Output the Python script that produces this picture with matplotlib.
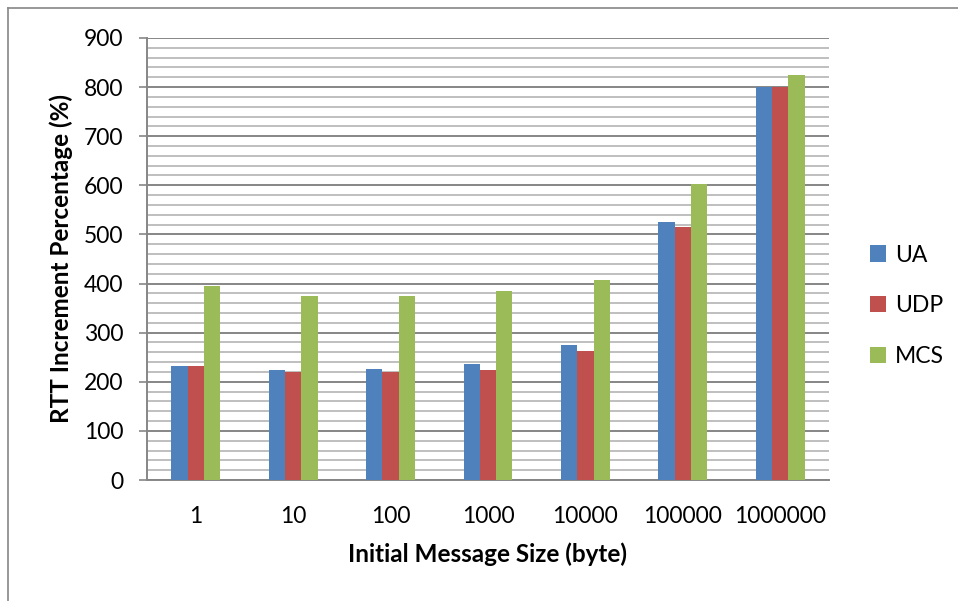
import numpy as np
import matplotlib
matplotlib.use("Agg")
import matplotlib.pyplot as plt
from matplotlib.lines import Line2D
from matplotlib.ticker import MultipleLocator

# ---------------------------------------------------
# Data
# ---------------------------------------------------

message_sizes = ["1", "10", "100", "1000", "10000", "100000", "1000000"]

ua_values = [233, 223, 227, 236, 274, 526, 801]
udp_values = [233, 220, 220, 224, 263, 516, 800]
mcs_values = [395, 375, 375, 385, 407, 603, 824]

series_names = ["UA", "UDP", "MCS"]
series_colors = ["#4F81BD", "#C0504D", "#9BBB59"]

plt.rcParams["font.family"] = ["Lato", "DejaVu Sans"]

# ---------------------------------------------------
# Figure
# ---------------------------------------------------

fig = plt.figure(figsize=(9.58, 6.01), dpi=100)
ax = fig.add_axes([0.1534, 0.2013, 0.7119, 0.7356])

x = np.arange(len(message_sizes))
width = 0.167

all_series = [ua_values, udp_values, mcs_values]

for i, (values, name, color) in enumerate(zip(all_series, series_names, series_colors)):
    ax.bar(
        x + (i - 1) * width,
        values,
        width=width,
        color=color,
        label=name,
        zorder=3,
    )

ax.set_xlim(-0.5, len(message_sizes) - 0.5)
ax.set_ylim(0, 900)

ax.yaxis.set_major_locator(MultipleLocator(100))
ax.yaxis.set_minor_locator(MultipleLocator(20))

ax.grid(axis="y", which="minor", color="#BFBFBF", linewidth=1.4, zorder=0)
ax.grid(axis="y", which="major", color="#868686", linewidth=1.4, zorder=1)
ax.set_axisbelow(True)

ax.set_xticks(x)
ax.set_xticklabels(message_sizes)

ax.tick_params(axis="x", length=0, pad=19, labelsize=16.5)
ax.tick_params(axis="y", which="major", length=6, width=1.2,
               color="#868686", pad=11, labelsize=16.5)
ax.tick_params(axis="y", which="minor", length=0)

for side in ["top", "right"]:
    ax.spines[side].set_visible(False)
for side in ["left", "bottom"]:
    ax.spines[side].set_color("#868686")
    ax.spines[side].set_linewidth(1.4)

ax.set_xlabel("Initial Message Size (byte)", fontsize=17.5, fontweight="bold",
              labelpad=11)
ax.set_ylabel("RTT Increment Percentage (%)", fontsize=17.5, fontweight="bold",
              labelpad=8)

ax.legend(
    loc="center left",
    bbox_to_anchor=(1.03, 0.394),
    frameon=False,
    fontsize=16.5,
    handlelength=0.7,
    handleheight=0.7,
    handletextpad=0.4,
    labelspacing=1.3,
)

# chart area border
fig.add_artist(Line2D([8 / 958, 1.0], [1 - 8 / 601, 1 - 8 / 601],
                      transform=fig.transFigure, color="#868686", linewidth=1.2))
fig.add_artist(Line2D([8 / 958, 8 / 958], [0.0, 1 - 8 / 601],
                      transform=fig.transFigure, color="#868686", linewidth=1.2))

fig.savefig("out.png", dpi=100)
